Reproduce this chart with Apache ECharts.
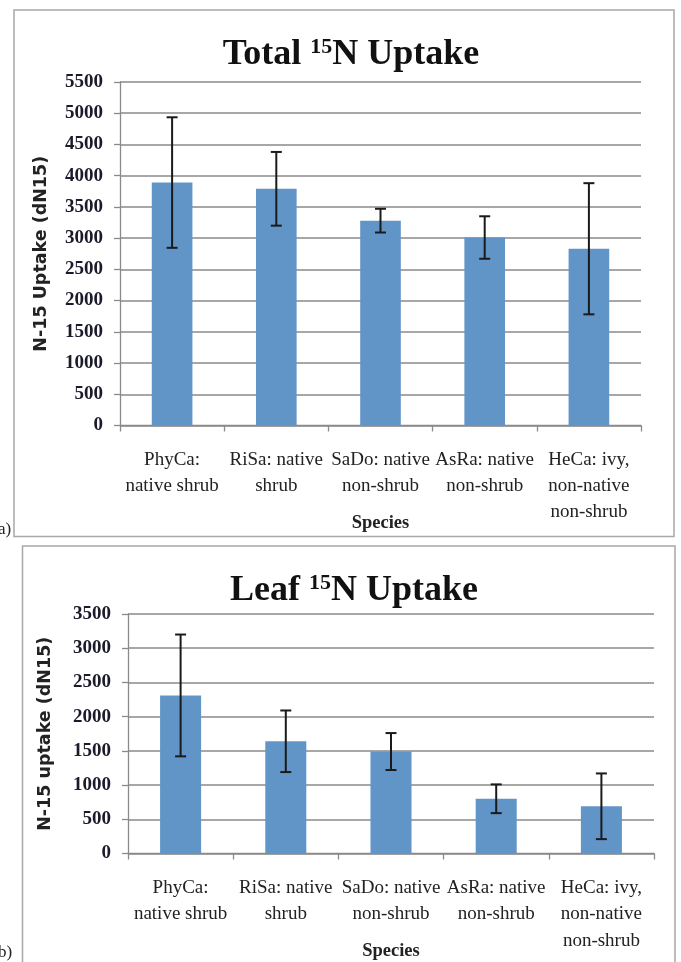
<!DOCTYPE html>
<html><head><meta charset="utf-8">
<script src="https://cdn.jsdelivr.net/npm/echarts@6/dist/echarts.min.js"></script>
<style>html,body{margin:0;padding:0;background:#fff}#c{width:681px;height:962px}</style>
</head><body><div id="c"></div>
<script>
const categories = ["PhyCa:\nnative shrub", "RiSa: native\nshrub", "SaDo: native\nnon-shrub", "AsRa: native\nnon-shrub", "HeCa: ivy,\nnon-native\nnon-shrub"];
const totalMeans = [3890, 3790, 3280, 3010, 2830];
const totalErr = [1045, 590, 190, 340, 1050];
const leafMeans = [2310, 1640, 1490, 800, 690];
const leafErr = [890, 450, 270, 210, 480];

const serif = '"Liberation Serif", "DejaVu Serif", serif';
const sans = '"DejaVu Sans", sans-serif';
const gridColor = '#8a8a8a';
const barColor = '#6195c8';

function errData(means, errs) {
  return means.map((m, i) => [i, m + errs[i], m - errs[i]]);
}
function errRender(params, api) {
  const x = api.value(0);
  const hi = api.coord([x, api.value(1)]);
  const lo = api.coord([x, api.value(2)]);
  const cw = 5.5;
  const st = { stroke: '#1a1a1a', lineWidth: 2 };
  return { type: 'group', children: [
    { type: 'line', shape: { x1: hi[0], y1: hi[1], x2: lo[0], y2: lo[1] }, style: st },
    { type: 'line', shape: { x1: hi[0] - cw, y1: hi[1], x2: hi[0] + cw, y2: hi[1] }, style: st },
    { type: 'line', shape: { x1: lo[0] - cw, y1: lo[1], x2: lo[0] + cw, y2: lo[1] }, style: st }
  ]};
}
function titleRich() {
  return {
    b: { fontFamily: serif, fontWeight: 'bold', fontSize: 36, color: '#111', lineHeight: 38 },
    s: { fontFamily: serif, fontWeight: 'bold', fontSize: 22, color: '#111', lineHeight: 38, verticalAlign: 'top' }
  };
}
function xAxisCfg(gi) {
  return {
    type: 'category', gridIndex: gi, data: categories,
    axisLine: { lineStyle: { color: gridColor, width: 1.3 } },
    axisTick: { show: true, length: 6, lineStyle: { color: gridColor, width: 1.3 } },
    axisLabel: { interval: 0, margin: gi === 0 ? 22 : 21, fontFamily: serif, fontSize: 19, color: '#222', lineHeight: gi === 0 ? 26 : 26.5 },
    name: 'Species', nameLocation: 'middle', nameGap: 88.5, nameMoveOverlap: false,
    nameTextStyle: { fontFamily: serif, fontWeight: 'bold', fontSize: 18.5, color: '#222' }
  };
}
function yAxisCfg(gi, max, name, gap) {
  return {
    type: 'value', gridIndex: gi, min: 0, max: max, interval: 500,
    axisLine: { show: true, lineStyle: { color: gridColor, width: 1.3 } },
    axisTick: { show: true, length: 6, lineStyle: { color: gridColor, width: 1.3 } },
    splitLine: { lineStyle: { color: gridColor, width: 1.5 } },
    axisLabel: { margin: 17, fontFamily: serif, fontWeight: 'bold', fontSize: 19, color: '#1a1a2a', formatter: v => String(v) },
    name: name, nameLocation: 'middle', nameGap: gap, nameMoveOverlap: false,
    nameTextStyle: { fontFamily: sans, fontWeight: 'bold', fontSize: 17.5, color: '#222' }
  };
}

const chart = echarts.init(document.getElementById('c'), null, { renderer: 'canvas' });
chart.setOption({
  animation: false,
  backgroundColor: '#fff',
  title: [
    { text: '{b|Total }{s|15}{b|N Uptake}', left: 346, top: 31, textAlign: 'center', textStyle: { rich: titleRich() } },
    { text: '{b|Leaf }{s|15}{b|N Uptake}', left: 349, top: 567, textAlign: 'center', textStyle: { rich: titleRich() } }
  ],
  graphic: [
    { type: 'rect', shape: { x: 14, y: 10, width: 660, height: 526.5 }, style: { fill: 'none', stroke: '#a8a8a8', lineWidth: 1.5 }, z: -1 },
    { type: 'rect', shape: { x: 22.5, y: 546, width: 652.5, height: 430 }, style: { fill: 'none', stroke: '#a8a8a8', lineWidth: 1.5 }, z: -1 },
    { type: 'text', x: -2, y: 521, style: { text: 'a)', fontFamily: serif, fontSize: 17, fill: '#222' } },
    { type: 'text', x: -2, y: 944, style: { text: 'b)', fontFamily: serif, fontSize: 17, fill: '#222' } }
  ],
  grid: [
    { left: 120, right: 40, top: 82, bottom: 962 - 425.5, outerBoundsMode: 'none', containLabel: false },
    { left: 128, right: 27, top: 614, bottom: 962 - 853.5, outerBoundsMode: 'none', containLabel: false }
  ],
  xAxis: [xAxisCfg(0), xAxisCfg(1)],
  yAxis: [yAxisCfg(0, 5500, 'N-15 Uptake (dN15)', 70), yAxisCfg(1, 3500, 'N-15 uptake (dN15)', 74)],
  series: [
    { type: 'bar', xAxisIndex: 0, yAxisIndex: 0, data: totalMeans, barWidth: '39%', itemStyle: { color: barColor } },
    { type: 'custom', xAxisIndex: 0, yAxisIndex: 0, data: errData(totalMeans, totalErr), renderItem: errRender, z: 5 },
    { type: 'bar', xAxisIndex: 1, yAxisIndex: 1, data: leafMeans, barWidth: '39%', itemStyle: { color: barColor } },
    { type: 'custom', xAxisIndex: 1, yAxisIndex: 1, data: errData(leafMeans, leafErr), renderItem: errRender, z: 5 }
  ]
});
</script></body></html>
